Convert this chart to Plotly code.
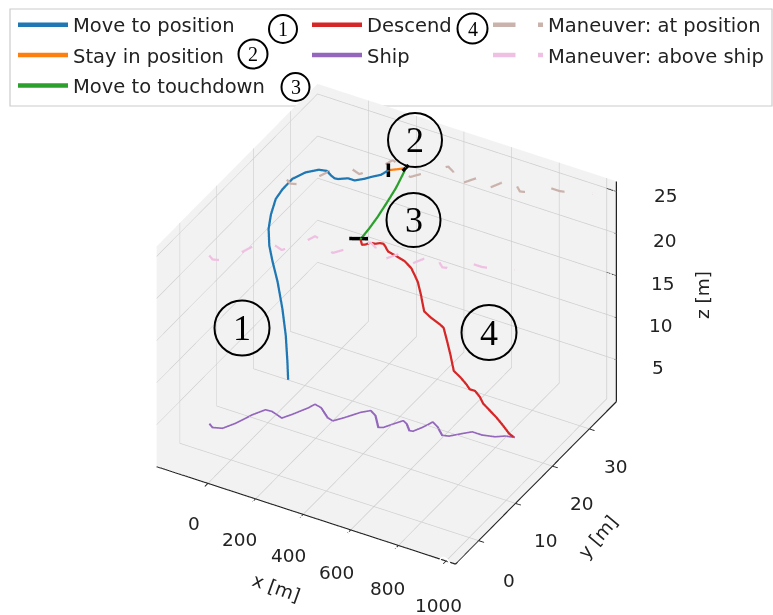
import math
import plotly.graph_objects as go

# ---------------- data ----------------
ship_x = [-183, -160, -126, -100, -74, -48, -22, 30, 51, 82, 92, 123, 175, 201, 227, 263, 289, 320,
          366, 382, 403, 424, 445, 475, 488, 507, 522, 553, 594, 618, 652, 678, 719, 766, 795, 831]
ship_y = [5.9, 5.3, 5.8, 7.7, 10.5, 12.4, 12.5, 11.8, 13.2, 15.6, 16.8, 16.5, 14.9, 14.6, 16.0, 18.2, 19.2, 18.5,
          16.3, 16.6, 18.0, 19.3, 18.9, 17.7, 17.8, 19.3, 21.0, 20.3, 18.9, 19.2, 20.6, 21.6, 21.6, 22.1, 22.9, 23.3]
ship_z = [0.0] * len(ship_x)

above_ship_x = ship_x
above_ship_y = ship_y
above_ship_z = [20.0] * len(ship_x)

at_pos_x = [-43, -20, 14, 40, 66, 92, 118, 170, 191, 222, 232, 263, 315, 341, 367, 403, 429, 460,
            506, 522, 543, 564, 585, 615, 628, 647, 662, 693, 734, 758, 792, 818, 859, 906, 935, 971]
at_pos_y = [17.9, 17.3, 17.8, 19.7, 22.5, 24.4, 24.5, 23.8, 25.2, 27.6, 28.8, 28.5, 26.9, 26.6, 28.0, 30.2, 31.2, 30.5,
            28.3, 28.6, 30.0, 31.3, 30.9, 29.7, 29.8, 31.3, 33.0, 32.3, 30.9, 31.2, 32.6, 33.6, 33.6, 34.1, 34.9, 35.3]
at_pos_z = [25.0] * len(at_pos_x)

move_x = [-58, -61, -68, -82, -102, -123, -137, -140, -130, -110, -82, -41, -6, 27, 56, 87, 105, 118,
          147, 175, 201, 216, 241, 250]
move_y = [19.2, 19.2, 19.2, 19.2, 19.2, 19.2, 19.2, 19.2, 19.2, 19.2, 19.2, 19.3, 20.6, 22.0, 22.3, 21.6, 21.3, 21.4,
          22.2, 22.2, 23.2, 24.0, 25.1, 26.5]
move_z = [0.5, 2.6, 5.7, 8.7, 11.7, 13.9, 15.7, 17.7, 19.5, 21.5, 22.9, 24.5, 25.0, 25.0, 25.0, 25.0, 25.0, 25.0,
          25.0, 25.0, 25.0, 25.0, 25.0, 25.0]

stay_x = [250, 262, 275, 287, 298]
stay_y = [26.5, 26.9, 27.3, 27.7, 28.1]
stay_z = [25.0, 25.0, 25.0, 25.0, 25.0]

touch_x = [298, 292, 283, 272, 262, 253, 246]
touch_y = [28.1, 27.6, 26.3, 24.8, 22.8, 21.1, 19.2]
touch_z = [25.0, 24.3, 23.2, 22.2, 21.2, 20.5, 20.0]

desc_x = [246, 252, 265, 283, 302, 320, 333, 339, 351, 376, 413, 438, 463, 475, 481, 487, 512, 549, 561,
          574, 586, 599, 623, 648, 660, 679, 698, 710, 735, 760, 784, 809, 828]
desc_y = [19.2, 19.2, 19.3, 19.5, 19.6, 19.7, 19.8, 19.9, 19.9, 20.1, 20.4, 20.6, 20.7, 20.8, 20.9, 20.9, 21.1,
          21.3, 21.4, 21.5, 21.6, 21.7, 21.9, 22.0, 22.1, 22.3, 22.4, 22.5, 22.7, 22.8, 23.0, 23.2, 23.3]
desc_z = [20.0, 19.4, 19.5, 19.8, 19.8, 20.0, 20.0, 19.7, 19.2, 18.9, 18.4, 17.7, 16.3, 14.8, 13.7, 12.9, 12.3,
          11.7, 11.4, 9.9, 8.4, 6.5, 5.9, 5.2, 4.7, 4.6, 4.0, 3.3, 2.6, 2.0, 1.2, 0.3, 0.0]

# phase-switch markers (short segments, None separates them)
switch_x = [250, 250, None, 298, 298, None, 208, 268]
switch_y = [26.5, 26.5, None, 27.3, 28.9, None, 18.6, 19.8]
switch_z = [24.2, 25.8, None, 25.0, 25.0, None, 20.0, 20.0]

x_range = [-215, 1040]
y_range = [-6.3, 37.3]
z_range = [0, 26.2]
x_ticks = [0, 200, 400, 600, 800, 1000]
y_ticks = [0, 10, 20, 30]
z_ticks = [5, 10, 15, 20, 25]

W, H = 773, 615
FONT = "DejaVu Sans"
TXT = "#222222"

fig = go.Figure()


def add_line(x, y, z, name, color, legend, dash="solid", width=4.5):
    fig.add_trace(go.Scatter3d(x=x, y=y, z=z, mode="lines", name=name,
                               line=dict(color=color, width=width, dash=dash),
                               legend=legend, legendgroup=name, hoverinfo="skip"))


add_line(move_x, move_y, move_z, "Move to position", "#1f77b4", "legend")
add_line(stay_x, stay_y, stay_z, "Stay in position", "#ff7f0e", "legend")
add_line(touch_x, touch_y, touch_z, "Move to touchdown", "#2ca02c", "legend")
add_line(desc_x, desc_y, desc_z, "Descend", "#d62728", "legend2")
add_line(ship_x, ship_y, ship_z, "Ship", "#9467bd", "legend2")
add_line(at_pos_x, at_pos_y, at_pos_z, "Maneuver: at position", "#cbb3ad", "legend3", dash="longdash")
add_line(above_ship_x, above_ship_y, above_ship_z, "Maneuver: above ship", "#efc0e1", "legend3", dash="longdash")

fig.add_trace(go.Scatter3d(x=switch_x, y=switch_y, z=switch_z, mode="lines",
                           line=dict(color="black", width=7), showlegend=False,
                           connectgaps=False, hoverinfo="skip"))

# matplotlib-style axis lines: x and y along the front floor edges, z on the right-hand edge
axx = [x_range[0], x_range[1], None, x_range[1], x_range[1], None, x_range[1], x_range[1], None]
axy = [y_range[0], y_range[0], None, y_range[0], y_range[1], None, y_range[1], y_range[1], None]
axz = [z_range[0], z_range[0], None, z_range[0], z_range[0], None, z_range[0], z_range[1], None]
for t in z_ticks:
    axx += [x_range[1], x_range[1] - 40, None]
    axy += [y_range[1], y_range[1], None]
    axz += [t, t, None]
fig.add_trace(go.Scatter3d(x=axx, y=axy, z=axz, mode="lines", line=dict(color=TXT, width=2.5),
                           connectgaps=False, showlegend=False, hoverinfo="skip"))


def ax(rng, ticks, show=True):
    return dict(title=dict(text=""),
                range=rng, tickvals=ticks, ticktext=[str(t) for t in ticks],
                showticklabels=show, tickfont=dict(family=FONT, size=14, color="rgba(0,0,0,0)"),
                showbackground=True, backgroundcolor="#f2f2f2",
                gridcolor="#cdcdcd", gridwidth=1.5,
                showline=show, linecolor=TXT, linewidth=2,
                ticks="outside" if show else "", ticklen=6, tickwidth=2, tickcolor=TXT,
                zeroline=False, showspikes=False, autorange=False)


el, az = math.radians(35), math.radians(-60.4)
fig.update_layout(
    width=W, height=H,
    margin=dict(l=0, r=0, t=0, b=0),
    paper_bgcolor="white",
    font=dict(family=FONT, size=18, color=TXT),
    scene=dict(
        domain=dict(x=[0.0, 1.0], y=[0.0, 0.946]),
        xaxis=ax(x_range, x_ticks),
        yaxis=ax(y_range, y_ticks),
        zaxis=ax(z_range, z_ticks, show=False),
        aspectmode="manual", aspectratio=dict(x=1.181, y=1.119, z=0.925),
        camera=dict(projection=dict(type="orthographic"),
                    eye=dict(x=1.6 * math.cos(el) * math.cos(az),
                             y=1.6 * math.cos(el) * math.sin(az),
                             z=1.6 * math.sin(el)),
                    up=dict(x=0, y=0, z=1), center=dict(x=0, y=0, z=0)),
    ),
)

leg_common = dict(font=dict(family=FONT, size=19.5, color=TXT), bgcolor="rgba(0,0,0,0)",
                  borderwidth=0, xanchor="left", yanchor="top", traceorder="grouped",
                  tracegroupgap=2, itemwidth=50)
fig.update_layout(
    legend=dict(x=13 / W, y=1 - 5.5 / H, **leg_common),
    legend2=dict(x=307 / W, y=1 - 5.5 / H, **leg_common),
    legend3=dict(x=488 / W, y=1 - 5.5 / H, **leg_common),
)


def px_x(v):
    return v / W


def px_y(v):
    return 1 - v / H


shapes = [dict(type="rect", xref="paper", yref="paper", x0=px_x(10), x1=px_x(772), y0=px_y(9), y1=px_y(106),
               line=dict(color="#cccccc", width=1.2), fillcolor="rgba(255,255,255,0.8)", layer="below")]
annotations = []
circles = [("1", 283, 29, 28, 20), ("2", 253, 54, 29, 20), ("3", 295.5, 87, 28, 20), ("4", 472.5, 28.5, 30, 20),
           ("1", 242, 328, 55, 36), ("2", 415, 140, 54, 36), ("3", 413.5, 220, 54, 36), ("4", 489, 332.5, 55, 36)]
for label, cx, cy, d, fs in circles:
    shapes.append(dict(type="circle", xref="paper", yref="paper",
                       x0=px_x(cx - d / 2), x1=px_x(cx + d / 2), y0=px_y(cy + d / 2), y1=px_y(cy - d / 2),
                       line=dict(color="black", width=2), fillcolor="rgba(0,0,0,0)"))
    annotations.append(dict(text=label, xref="paper", yref="paper", x=px_x(cx), y=px_y(cy),
                            xanchor="center", yanchor="middle", showarrow=False,
                            font=dict(family="Liberation Serif", size=fs, color="black")))

# tick labels, placed horizontally as matplotlib draws them
x_label_pos = [(194, 523), (240, 539), (288, 555), (336, 572), (387, 588), (438, 605)]
y_label_pos = [(509, 580), (546, 540), (582, 503), (616, 466)]
z_label_pos = [(658, 367), (661, 325), (663, 283), (665, 240), (666, 195)]
for ticks, positions in [(x_ticks, x_label_pos), (y_ticks, y_label_pos), (z_ticks, z_label_pos)]:
    for t, (px, py) in zip(ticks, positions):
        annotations.append(dict(text=str(t), xref="paper", yref="paper", x=px_x(px), y=px_y(py),
                                xanchor="center", yanchor="middle", showarrow=False,
                                font=dict(family=FONT, size=18.5, color=TXT)))

# axis titles (matplotlib-style, rotated along the axes)
for text, x, y, ang in [("x [m]", 276, 587, 20), ("y [m]", 597, 537, -50), ("z [m]", 702, 295, -90)]:
    annotations.append(dict(text=text, xref="paper", yref="paper", x=px_x(x), y=px_y(y),
                            xanchor="center", yanchor="middle", showarrow=False, textangle=ang,
                            font=dict(family=FONT, size=18.5, color=TXT)))
fig.update_layout(shapes=shapes, annotations=annotations)

fig.write_html("out.html", config={"displayModeBar": False},
               post_script="document.body.style.margin='0px';document.body.style.overflow='hidden';")
